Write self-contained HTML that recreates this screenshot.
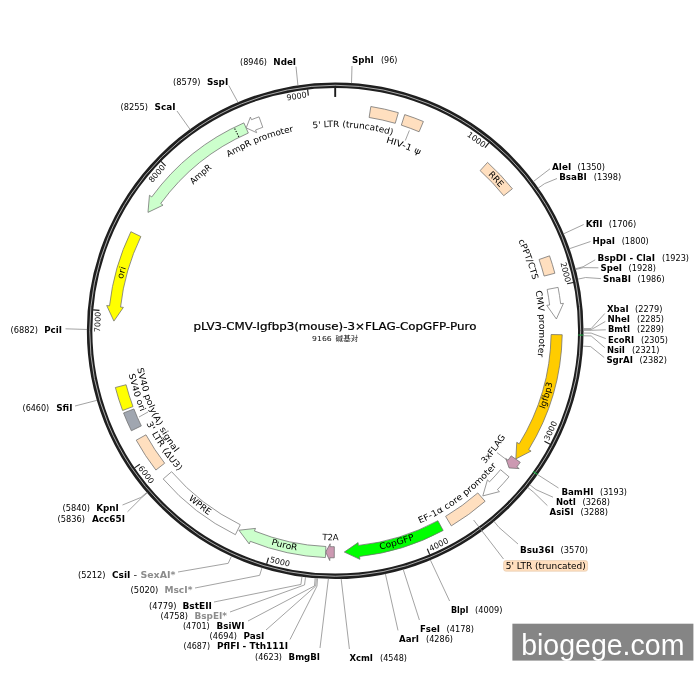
<!DOCTYPE html>
<html lang="en">
<head>
<meta charset="utf-8">
<title>pLV3-CMV-Igfbp3(mouse)-3×FLAG-CopGFP-Puro</title>
<style>
html,body{margin:0;padding:0;background:#fff;}
body{width:700px;height:700px;overflow:hidden;}
svg{display:block;font-family:"DejaVu Sans", "Liberation Sans", sans-serif;will-change:transform;}
</style>
</head>
<body>
<svg width="700" height="700" viewBox="0 0 700 700">
<rect width="700" height="700" fill="#fff"/>
<defs>
<path id="tp1" d="M 284.33 133.4 A 203.8 203.8 0 0 1 419.57 145.23"/>
<path id="tp2" d="M 356.96 137.07 A 194.9 194.9 0 0 1 444.72 169.53"/>
<path id="tp3" d="M 465.65 155.71 A 218.3 218.3 0 0 1 517.74 211.03"/>
<path id="tp4" d="M 503.41 215.51 A 203.9 203.9 0 0 1 537.91 308.79"/>
<path id="tp5" d="M 527.75 263.05 A 204.1 204.1 0 0 1 531.9 385.19"/>
<path id="tp6" d="M 532.08 436.95 A 223.7 223.7 0 0 0 557.79 353"/>
<path id="tp7" d="M 462.97 485.39 A 200.6 200.6 0 0 0 519.63 409.66"/>
<path id="tp8" d="M 390.5 533.96 A 210.6 210.6 0 0 0 514.91 440.55"/>
<path id="tp9" d="M 350.01 553.46 A 223.2 223.2 0 0 0 442.17 526.65"/>
<path id="tp10" d="M 291.93 535.84 A 209.6 209.6 0 0 0 369.12 537.59"/>
<path id="tp11" d="M 242.63 533.74 A 223.1 223.1 0 0 0 326.97 553.7"/>
<path id="tp12" d="M 166.69 477.72 A 223.6 223.6 0 0 0 234.87 530.58"/>
<path id="tp13" d="M 134.75 394.69 A 210.4 210.4 0 0 0 200.82 492.65"/>
<path id="tp14" d="M 124.71 343.93 A 210.9 210.9 0 0 0 154.46 439.43"/>
<path id="tp15" d="M 133.91 337.42 A 201.4 201.4 0 0 0 195.56 475.88"/>
<path id="tp16" d="M 117.86 308.26 A 218.5 218.5 0 0 1 136.42 240.03"/>
<path id="tp17" d="M 173.72 206.75 A 203.6 203.6 0 0 1 236.74 152.54"/>
<path id="tp18" d="M 204.99 174.23 A 203.6 203.6 0 0 1 322.27 127.56"/>
</defs>
<circle cx="335.2" cy="330.75" r="245.6" fill="none" stroke="#1f1f1f" stroke-width="5.5"/>
<circle cx="335.2" cy="330.75" r="245.5" fill="none" stroke="#b4b4b4" stroke-width="0.95"/>
<line x1="335.2" y1="87.75" x2="335.2" y2="96.95" stroke="#1c1c1c" stroke-width="1.9"/>
<line x1="489.03" y1="142.64" x2="484.98" y2="147.6" stroke="#1c1c1c" stroke-width="1.15"/>
<text transform="translate(476.57 139.41) rotate(36.46)" x="0" y="2.95" font-size="8" text-anchor="middle" fill="#111" textLength="20.4" lengthAdjust="spacingAndGlyphs">1000</text>
<line x1="573.36" y1="282.52" x2="567.09" y2="283.79" stroke="#1c1c1c" stroke-width="1.15"/>
<text transform="translate(565.76 272.12) rotate(75.73)" x="0" y="2.95" font-size="8" text-anchor="middle" fill="#111" textLength="20.4" lengthAdjust="spacingAndGlyphs">2000</text>
<line x1="550.1" y1="444.18" x2="544.44" y2="441.19" stroke="#1c1c1c" stroke-width="1.15"/>
<text transform="translate(550.43 430.68) rotate(-65.09)" x="0" y="2.95" font-size="8" text-anchor="middle" fill="#111" textLength="20.4" lengthAdjust="spacingAndGlyphs">3000</text>
<line x1="429.75" y1="554.6" x2="427.26" y2="548.71" stroke="#1c1c1c" stroke-width="1.15"/>
<text transform="translate(438.55 544.36) rotate(-25.82)" x="0" y="2.95" font-size="8" text-anchor="middle" fill="#111" textLength="20.4" lengthAdjust="spacingAndGlyphs">4000</text>
<line x1="266.68" y1="563.89" x2="268.49" y2="557.75" stroke="#1c1c1c" stroke-width="1.15"/>
<text transform="translate(279.98 561.54) rotate(13.46)" x="0" y="2.95" font-size="8" text-anchor="middle" fill="#111" textLength="20.4" lengthAdjust="spacingAndGlyphs">5000</text>
<line x1="134.57" y1="467.85" x2="139.85" y2="464.24" stroke="#1c1c1c" stroke-width="1.15"/>
<text transform="translate(146.35 474.45) rotate(52.73)" x="0" y="2.95" font-size="8" text-anchor="middle" fill="#111" textLength="20.4" lengthAdjust="spacingAndGlyphs">6000</text>
<line x1="93.1" y1="309.87" x2="99.47" y2="310.42" stroke="#1c1c1c" stroke-width="1.15"/>
<text transform="translate(97.46 321.99) rotate(272.11)" x="0" y="2.95" font-size="8" text-anchor="middle" fill="#111" textLength="20.4" lengthAdjust="spacingAndGlyphs">7000</text>
<line x1="161" y1="161.32" x2="165.59" y2="165.79" stroke="#1c1c1c" stroke-width="1.15"/>
<text transform="translate(156.71 173.46) rotate(311.39)" x="0" y="2.95" font-size="8" text-anchor="middle" fill="#111" textLength="20.4" lengthAdjust="spacingAndGlyphs">8000</text>
<line x1="307.61" y1="89.32" x2="308.34" y2="95.68" stroke="#1c1c1c" stroke-width="1.15"/>
<text transform="translate(296.6 96) rotate(350.66)" x="0" y="2.95" font-size="8" text-anchor="middle" fill="#111" textLength="20.4" lengthAdjust="spacingAndGlyphs">9000</text>
<line x1="578.16" y1="335" x2="583.36" y2="335.09" stroke="#16a03a" stroke-width="1.2"/>
<line x1="533.26" y1="471.54" x2="537.5" y2="474.55" stroke="#16a03a" stroke-width="1.2"/>
<path d="M 370.85 106.52 A 227.05 227.05 0 0 1 398.33 112.65 L 395.24 123.31 A 215.95 215.95 0 0 0 369.11 117.48 Z" fill="#ffdfbf" stroke="#6e6e6e" stroke-width="0.75" stroke-linejoin="miter"/>
<path d="M 404.73 114.61 A 227.05 227.05 0 0 1 423.4 121.53 L 419.09 131.76 A 215.95 215.95 0 0 0 401.33 125.17 Z" fill="#ffdfbf" stroke="#6e6e6e" stroke-width="0.75" stroke-linejoin="miter"/>
<path d="M 487.55 162.4 A 227.05 227.05 0 0 1 512.38 188.77 L 503.72 195.71 A 215.95 215.95 0 0 0 480.1 170.63 Z" fill="#ffdfbf" stroke="#6e6e6e" stroke-width="0.75" stroke-linejoin="miter"/>
<path d="M 549.54 255.84 A 227.05 227.05 0 0 1 554.85 273.25 L 544.11 276.06 A 215.95 215.95 0 0 0 539.06 259.5 Z" fill="#ffdfbf" stroke="#6e6e6e" stroke-width="0.75" stroke-linejoin="miter"/>
<path d="M 558.07 287.36 A 227.05 227.05 0 0 1 560.63 303.68 L 563.46 303.34 L 556.39 318.99 L 546.78 305.35 L 549.61 305.01 A 215.95 215.95 0 0 0 547.17 289.48 Z" fill="#ffffff" stroke="#777" stroke-width="0.75" stroke-linejoin="miter"/>
<path d="M 562.22 334.72 A 227.05 227.05 0 0 1 528.66 449.6 L 531.09 451.1 L 515.82 458.96 L 516.77 442.3 L 519.2 443.79 A 215.95 215.95 0 0 0 551.12 334.52 Z" fill="#ffcc00" stroke="#6e6e6e" stroke-width="0.75" stroke-linejoin="miter"/>
<path d="M 520.26 462.3 A 227.05 227.05 0 0 1 516.91 466.89 L 519.19 468.6 L 509.09 467.95 L 505.75 458.52 L 508.03 460.23 A 215.95 215.95 0 0 0 511.21 455.87 Z" fill="#cc99b2" stroke="#6e6e6e" stroke-width="0.75" stroke-linejoin="miter"/>
<path d="M 509.02 476.82 A 227.05 227.05 0 0 1 497.4 489.63 L 499.43 491.63 L 482.81 495.9 L 487.43 479.87 L 489.47 481.86 A 215.95 215.95 0 0 0 500.53 469.68 Z" fill="#ffffff" stroke="#777" stroke-width="0.75" stroke-linejoin="miter"/>
<path d="M 485.11 501.28 A 227.05 227.05 0 0 1 451.3 525.87 L 445.62 516.33 A 215.95 215.95 0 0 0 477.78 492.94 Z" fill="#ffdfbf" stroke="#6e6e6e" stroke-width="0.75" stroke-linejoin="miter"/>
<path d="M 443.18 530.48 A 227.05 227.05 0 0 1 359.56 556.49 L 359.87 559.32 L 344.31 552.06 L 358.06 542.62 L 358.37 545.45 A 215.95 215.95 0 0 0 437.9 520.72 Z" fill="#00ff00" stroke="#6e6e6e" stroke-width="0.75" stroke-linejoin="miter"/>
<path d="M 334.27 557.8 A 227.05 227.05 0 0 1 329.83 557.74 L 329.76 560.59 L 325.64 552.04 L 330.16 543.79 L 330.09 546.64 A 215.95 215.95 0 0 0 334.31 546.7 Z" fill="#cc99b2" stroke="#6e6e6e" stroke-width="0.75" stroke-linejoin="miter"/>
<path d="M 325.4 557.59 A 227.05 227.05 0 0 1 250.28 541.32 L 249.22 543.97 L 238.92 530.23 L 255.5 528.39 L 254.44 531.03 A 215.95 215.95 0 0 0 325.88 546.5 Z" fill="#ccffcc" stroke="#6e6e6e" stroke-width="0.75" stroke-linejoin="miter"/>
<path d="M 235.39 534.68 A 227.05 227.05 0 0 1 163.19 478.95 L 171.6 471.71 A 215.95 215.95 0 0 0 240.27 524.71 Z" fill="#ffffff" stroke="#777" stroke-width="0.75" stroke-linejoin="miter"/>
<path d="M 155.9 470.04 A 227.05 227.05 0 0 1 136.25 440.16 L 145.98 434.81 A 215.95 215.95 0 0 0 164.66 463.23 Z" fill="#ffdfbf" stroke="#6e6e6e" stroke-width="0.75" stroke-linejoin="miter"/>
<path d="M 131.37 430.77 A 227.05 227.05 0 0 1 123.56 412.96 L 133.9 408.94 A 215.95 215.95 0 0 0 141.33 425.88 Z" fill="#a0a6b0" stroke="#6e6e6e" stroke-width="0.75" stroke-linejoin="miter"/>
<path d="M 122.61 410.49 A 227.05 227.05 0 0 1 115.36 387.5 L 126.1 384.72 A 215.95 215.95 0 0 0 133.01 406.59 Z" fill="#ffff00" stroke="#6e6e6e" stroke-width="0.75" stroke-linejoin="miter"/>
<path d="M 130.89 231.71 A 227.05 227.05 0 0 0 109.52 305.85 L 106.69 305.54 L 113.91 321.11 L 123.39 307.38 L 120.55 307.07 A 215.95 215.95 0 0 1 140.88 236.55 Z" fill="#ffff00" stroke="#6e6e6e" stroke-width="0.75" stroke-linejoin="miter"/>
<path d="M 243.86 122.88 A 227.05 227.05 0 0 0 151.76 196.95 L 149.46 195.27 L 147.98 212.38 L 163.03 205.17 L 160.73 203.49 A 215.95 215.95 0 0 1 248.32 133.05 Z" fill="#ccffcc" stroke="#6e6e6e" stroke-width="0.75" stroke-linejoin="miter"/>
<path d="M 259.04 116.85 A 227.05 227.05 0 0 0 251.47 119.7 L 250.42 117.05 L 246.23 127.9 L 256.61 132.67 L 255.56 130.02 A 215.95 215.95 0 0 1 262.76 127.31 Z" fill="#ffffff" stroke="#777" stroke-width="0.75" stroke-linejoin="miter"/>
<line x1="238.85" y1="136.93" x2="234.35" y2="127.88" stroke="#111" stroke-width="1.1" stroke-dasharray="1.35 1.35"/>
<text font-size="8.7" fill="#000" text-anchor="middle"><textPath href="#tp1" startOffset="50%" textLength="80.5" lengthAdjust="spacingAndGlyphs">5' LTR (truncated)</textPath></text>
<text font-size="8.7" fill="#000" text-anchor="middle"><textPath href="#tp2" startOffset="50%" textLength="36" lengthAdjust="spacingAndGlyphs">HIV-1 ψ</textPath></text>
<text font-size="8.7" fill="#000" text-anchor="middle"><textPath href="#tp3" startOffset="50%" textLength="17.5" lengthAdjust="spacingAndGlyphs">RRE</textPath></text>
<text font-size="8.7" fill="#000" text-anchor="middle"><textPath href="#tp4" startOffset="50%" textLength="42" lengthAdjust="spacingAndGlyphs">cPPT/CTS</textPath></text>
<text font-size="8.7" fill="#000" text-anchor="middle"><textPath href="#tp5" startOffset="50%" textLength="66" lengthAdjust="spacingAndGlyphs">CMV promoter</textPath></text>
<text font-size="8.7" fill="#000" text-anchor="middle"><textPath href="#tp6" startOffset="50%" textLength="27.5" lengthAdjust="spacingAndGlyphs">Igfbp3</textPath></text>
<text font-size="8.7" fill="#000" text-anchor="middle"><textPath href="#tp7" startOffset="50%" textLength="34" lengthAdjust="spacingAndGlyphs">3xFLAG</textPath></text>
<text font-size="8.7" fill="#000" text-anchor="middle"><textPath href="#tp8" startOffset="50%" textLength="97" lengthAdjust="spacingAndGlyphs">EF-1α core promoter</textPath></text>
<text font-size="8.7" fill="#000" text-anchor="middle"><textPath href="#tp9" startOffset="50%" textLength="36" lengthAdjust="spacingAndGlyphs">CopGFP</textPath></text>
<text font-size="8.7" fill="#000" text-anchor="middle"><textPath href="#tp10" startOffset="50%" textLength="16.5" lengthAdjust="spacingAndGlyphs">T2A</textPath></text>
<text font-size="8.7" fill="#000" text-anchor="middle"><textPath href="#tp11" startOffset="50%" textLength="26.6" lengthAdjust="spacingAndGlyphs">PuroR</textPath></text>
<text font-size="8.7" fill="#000" text-anchor="middle"><textPath href="#tp12" startOffset="50%" textLength="26" lengthAdjust="spacingAndGlyphs">WPRE</textPath></text>
<text font-size="8.7" fill="#000" text-anchor="middle"><textPath href="#tp13" startOffset="50%" textLength="58" lengthAdjust="spacingAndGlyphs">3' LTR (ΔU3)</textPath></text>
<text font-size="8.7" fill="#000" text-anchor="middle"><textPath href="#tp14" startOffset="50%" textLength="39.5" lengthAdjust="spacingAndGlyphs">SV40 ori</textPath></text>
<text font-size="8.7" fill="#000" text-anchor="middle"><textPath href="#tp15" startOffset="50%" textLength="93" lengthAdjust="spacingAndGlyphs">SV40 poly(A) signal</textPath></text>
<text font-size="8.7" fill="#000" text-anchor="middle"><textPath href="#tp16" startOffset="50%" textLength="12" lengthAdjust="spacingAndGlyphs">ori</textPath></text>
<text font-size="8.7" fill="#000" text-anchor="middle"><textPath href="#tp17" startOffset="50%" textLength="25" lengthAdjust="spacingAndGlyphs">AmpR</textPath></text>
<text font-size="8.7" fill="#000" text-anchor="middle"><textPath href="#tp18" startOffset="50%" textLength="70.3" lengthAdjust="spacingAndGlyphs">AmpR promoter</textPath></text>
<line x1="409.4" y1="130.4" x2="405.3" y2="140.5" stroke="#8a8a8a" stroke-width="0.8"/>
<line x1="497" y1="452.6" x2="506.9" y2="460" stroke="#8a8a8a" stroke-width="0.8"/>
<line x1="139" y1="417" x2="148" y2="412" stroke="#8a8a8a" stroke-width="0.8"/>
<line x1="473.6" y1="520" x2="503.5" y2="559" stroke="#8a8a8a" stroke-width="0.8"/>
<rect x="503.6" y="560.6" width="84" height="10.6" rx="2.2" ry="2.2" fill="#ffdfbf" stroke="#e3c6a8" stroke-width="0.6"/>
<text x="505.8" y="568.6" font-size="8.7" font-weight="normal" fill="#000" text-anchor="start" textLength="80" lengthAdjust="spacingAndGlyphs">5' LTR (truncated)</text>
<text x="352" y="63" font-size="8.0" font-weight="bold" fill="#000" text-anchor="start" textLength="21.8" lengthAdjust="spacingAndGlyphs">SphI</text>
<text x="381" y="63" font-size="8.0" font-weight="normal" fill="#000" text-anchor="start" textLength="16.4" lengthAdjust="spacingAndGlyphs">(96)</text>
<text x="552" y="170" font-size="8.0" font-weight="bold" fill="#000" text-anchor="start" textLength="19.2" lengthAdjust="spacingAndGlyphs">AleI</text>
<text x="577.5" y="170" font-size="8.0" font-weight="normal" fill="#000" text-anchor="start" textLength="27.5" lengthAdjust="spacingAndGlyphs">(1350)</text>
<text x="559.2" y="180" font-size="8.0" font-weight="bold" fill="#000" text-anchor="start" textLength="27.6" lengthAdjust="spacingAndGlyphs">BsaBI</text>
<text x="593.7" y="180" font-size="8.0" font-weight="normal" fill="#000" text-anchor="start" textLength="27.5" lengthAdjust="spacingAndGlyphs">(1398)</text>
<text x="585.7" y="226.8" font-size="8.0" font-weight="bold" fill="#000" text-anchor="start" textLength="16.8" lengthAdjust="spacingAndGlyphs">KflI</text>
<text x="608.7" y="226.8" font-size="8.0" font-weight="normal" fill="#000" text-anchor="start" textLength="27.5" lengthAdjust="spacingAndGlyphs">(1706)</text>
<text x="592.5" y="243.8" font-size="8.0" font-weight="bold" fill="#000" text-anchor="start" textLength="22.5" lengthAdjust="spacingAndGlyphs">HpaI</text>
<text x="621.7" y="243.8" font-size="8.0" font-weight="normal" fill="#000" text-anchor="start" textLength="27.1" lengthAdjust="spacingAndGlyphs">(1800)</text>
<text x="597.4" y="261" font-size="8.0" font-weight="bold" fill="#000" text-anchor="start" textLength="57.6" lengthAdjust="spacingAndGlyphs">BspDI - ClaI</text>
<text x="662" y="261" font-size="8.0" font-weight="normal" fill="#000" text-anchor="start" textLength="27" lengthAdjust="spacingAndGlyphs">(1923)</text>
<text x="600.6" y="271.4" font-size="8.0" font-weight="bold" fill="#000" text-anchor="start" textLength="21.4" lengthAdjust="spacingAndGlyphs">SpeI</text>
<text x="628.6" y="271.4" font-size="8.0" font-weight="normal" fill="#000" text-anchor="start" textLength="27.4" lengthAdjust="spacingAndGlyphs">(1928)</text>
<text x="603" y="281.6" font-size="8.0" font-weight="bold" fill="#000" text-anchor="start" textLength="28" lengthAdjust="spacingAndGlyphs">SnaBI</text>
<text x="637.6" y="281.6" font-size="8.0" font-weight="normal" fill="#000" text-anchor="start" textLength="27" lengthAdjust="spacingAndGlyphs">(1986)</text>
<text x="607" y="312" font-size="8.0" font-weight="bold" fill="#000" text-anchor="start" textLength="21.6" lengthAdjust="spacingAndGlyphs">XbaI</text>
<text x="635" y="312" font-size="8.0" font-weight="normal" fill="#000" text-anchor="start" textLength="27.4" lengthAdjust="spacingAndGlyphs">(2279)</text>
<text x="607.5" y="322.4" font-size="8.0" font-weight="bold" fill="#000" text-anchor="start" textLength="22.5" lengthAdjust="spacingAndGlyphs">NheI</text>
<text x="637" y="322.4" font-size="8.0" font-weight="normal" fill="#000" text-anchor="start" textLength="27" lengthAdjust="spacingAndGlyphs">(2285)</text>
<text x="608" y="332.4" font-size="8.0" font-weight="bold" fill="#000" text-anchor="start" textLength="22" lengthAdjust="spacingAndGlyphs">BmtI</text>
<text x="637" y="332.4" font-size="8.0" font-weight="normal" fill="#000" text-anchor="start" textLength="27" lengthAdjust="spacingAndGlyphs">(2289)</text>
<text x="608" y="342.6" font-size="8.0" font-weight="bold" fill="#000" text-anchor="start" textLength="26" lengthAdjust="spacingAndGlyphs">EcoRI</text>
<text x="641" y="342.6" font-size="8.0" font-weight="normal" fill="#000" text-anchor="start" textLength="27" lengthAdjust="spacingAndGlyphs">(2305)</text>
<text x="607" y="353" font-size="8.0" font-weight="bold" fill="#000" text-anchor="start" textLength="18" lengthAdjust="spacingAndGlyphs">NsiI</text>
<text x="632" y="353" font-size="8.0" font-weight="normal" fill="#000" text-anchor="start" textLength="27.4" lengthAdjust="spacingAndGlyphs">(2321)</text>
<text x="606.4" y="363.4" font-size="8.0" font-weight="bold" fill="#000" text-anchor="start" textLength="26.6" lengthAdjust="spacingAndGlyphs">SgrAI</text>
<text x="639.6" y="363.4" font-size="8.0" font-weight="normal" fill="#000" text-anchor="start" textLength="27.4" lengthAdjust="spacingAndGlyphs">(2382)</text>
<text x="561.4" y="494.6" font-size="8.0" font-weight="bold" fill="#000" text-anchor="start" textLength="32" lengthAdjust="spacingAndGlyphs">BamHI</text>
<text x="600" y="494.6" font-size="8.0" font-weight="normal" fill="#000" text-anchor="start" textLength="27" lengthAdjust="spacingAndGlyphs">(3193)</text>
<text x="556" y="505" font-size="8.0" font-weight="bold" fill="#000" text-anchor="start" textLength="20" lengthAdjust="spacingAndGlyphs">NotI</text>
<text x="582.6" y="505" font-size="8.0" font-weight="normal" fill="#000" text-anchor="start" textLength="27.4" lengthAdjust="spacingAndGlyphs">(3268)</text>
<text x="549.6" y="515" font-size="8.0" font-weight="bold" fill="#000" text-anchor="start" textLength="24" lengthAdjust="spacingAndGlyphs">AsiSI</text>
<text x="580.4" y="515" font-size="8.0" font-weight="normal" fill="#000" text-anchor="start" textLength="27.6" lengthAdjust="spacingAndGlyphs">(3288)</text>
<text x="520" y="553" font-size="8.0" font-weight="bold" fill="#000" text-anchor="start" textLength="34" lengthAdjust="spacingAndGlyphs">Bsu36I</text>
<text x="560.6" y="553" font-size="8.0" font-weight="normal" fill="#000" text-anchor="start" textLength="27.4" lengthAdjust="spacingAndGlyphs">(3570)</text>
<text x="451" y="613" font-size="8.0" font-weight="bold" fill="#000" text-anchor="start" textLength="17.5" lengthAdjust="spacingAndGlyphs">BlpI</text>
<text x="475" y="613" font-size="8.0" font-weight="normal" fill="#000" text-anchor="start" textLength="27.4" lengthAdjust="spacingAndGlyphs">(4009)</text>
<text x="420" y="632" font-size="8.0" font-weight="bold" fill="#000" text-anchor="start" textLength="20" lengthAdjust="spacingAndGlyphs">FseI</text>
<text x="446.6" y="632" font-size="8.0" font-weight="normal" fill="#000" text-anchor="start" textLength="27.4" lengthAdjust="spacingAndGlyphs">(4178)</text>
<text x="399" y="642" font-size="8.0" font-weight="bold" fill="#000" text-anchor="start" textLength="20" lengthAdjust="spacingAndGlyphs">AarI</text>
<text x="426" y="642" font-size="8.0" font-weight="normal" fill="#000" text-anchor="start" textLength="27" lengthAdjust="spacingAndGlyphs">(4286)</text>
<text x="349.4" y="660.6" font-size="8.0" font-weight="bold" fill="#000" text-anchor="start" textLength="23.6" lengthAdjust="spacingAndGlyphs">XcmI</text>
<text x="380" y="660.6" font-size="8.0" font-weight="normal" fill="#000" text-anchor="start" textLength="27" lengthAdjust="spacingAndGlyphs">(4548)</text>
<text x="255" y="659.6" font-size="8.0" font-weight="normal" fill="#000" text-anchor="start" textLength="27" lengthAdjust="spacingAndGlyphs">(4623)</text>
<text x="288.6" y="659.6" font-size="8.0" font-weight="bold" fill="#000" text-anchor="start" textLength="31.4" lengthAdjust="spacingAndGlyphs">BmgBI</text>
<text x="183.6" y="649.4" font-size="8.0" font-weight="normal" fill="#000" text-anchor="start" textLength="26.4" lengthAdjust="spacingAndGlyphs">(4687)</text>
<text x="217" y="649.4" font-size="8.0" font-weight="bold" fill="#000" text-anchor="start" textLength="71" lengthAdjust="spacingAndGlyphs">PflFI - Tth111I</text>
<text x="209.6" y="639" font-size="8.0" font-weight="normal" fill="#000" text-anchor="start" textLength="27.4" lengthAdjust="spacingAndGlyphs">(4694)</text>
<text x="243.6" y="639" font-size="8.0" font-weight="bold" fill="#000" text-anchor="start" textLength="20.8" lengthAdjust="spacingAndGlyphs">PasI</text>
<text x="183" y="628.6" font-size="8.0" font-weight="normal" fill="#000" text-anchor="start" textLength="26.6" lengthAdjust="spacingAndGlyphs">(4701)</text>
<text x="216.6" y="628.6" font-size="8.0" font-weight="bold" fill="#000" text-anchor="start" textLength="27.8" lengthAdjust="spacingAndGlyphs">BsiWI</text>
<text x="160.6" y="618.6" font-size="8.0" font-weight="normal" fill="#000" text-anchor="start" textLength="27.4" lengthAdjust="spacingAndGlyphs">(4758)</text>
<text x="194.4" y="618.6" font-size="8.0" font-weight="bold" fill="#8c8c8c" text-anchor="start" textLength="32.6" lengthAdjust="spacingAndGlyphs">BspEI*</text>
<text x="149" y="608.6" font-size="8.0" font-weight="normal" fill="#000" text-anchor="start" textLength="27.4" lengthAdjust="spacingAndGlyphs">(4779)</text>
<text x="182.4" y="608.6" font-size="8.0" font-weight="bold" fill="#000" text-anchor="start" textLength="29.6" lengthAdjust="spacingAndGlyphs">BstEII</text>
<text x="130.6" y="593" font-size="8.0" font-weight="normal" fill="#000" text-anchor="start" textLength="27.8" lengthAdjust="spacingAndGlyphs">(5020)</text>
<text x="164.4" y="593" font-size="8.0" font-weight="bold" fill="#8c8c8c" text-anchor="start" textLength="28" lengthAdjust="spacingAndGlyphs">MscI*</text>
<text x="78" y="578" font-size="8.0" font-weight="normal" fill="#000" text-anchor="start" textLength="27.6" lengthAdjust="spacingAndGlyphs">(5212)</text>
<text x="112" y="578" font-size="8.0" font-weight="bold" fill="#000" text-anchor="start" textLength="18.4" lengthAdjust="spacingAndGlyphs">CsiI</text>
<text x="133.6" y="578" font-size="8.0" font-weight="normal" fill="#000" text-anchor="start" textLength="3.6" lengthAdjust="spacingAndGlyphs">-</text>
<text x="140.4" y="578" font-size="8.0" font-weight="bold" fill="#8c8c8c" text-anchor="start" textLength="35" lengthAdjust="spacingAndGlyphs">SexAI*</text>
<text x="62.5" y="511.2" font-size="8.0" font-weight="normal" fill="#000" text-anchor="start" textLength="27.5" lengthAdjust="spacingAndGlyphs">(5840)</text>
<text x="96.2" y="511.2" font-size="8.0" font-weight="bold" fill="#000" text-anchor="start" textLength="22.6" lengthAdjust="spacingAndGlyphs">KpnI</text>
<text x="57.5" y="521.8" font-size="8.0" font-weight="normal" fill="#000" text-anchor="start" textLength="27.5" lengthAdjust="spacingAndGlyphs">(5836)</text>
<text x="92" y="521.8" font-size="8.0" font-weight="bold" fill="#000" text-anchor="start" textLength="33" lengthAdjust="spacingAndGlyphs">Acc65I</text>
<text x="22.5" y="411.2" font-size="8.0" font-weight="normal" fill="#000" text-anchor="start" textLength="26.7" lengthAdjust="spacingAndGlyphs">(6460)</text>
<text x="56.2" y="411.2" font-size="8.0" font-weight="bold" fill="#000" text-anchor="start" textLength="16.3" lengthAdjust="spacingAndGlyphs">SfiI</text>
<text x="10.5" y="333" font-size="8.0" font-weight="normal" fill="#000" text-anchor="start" textLength="27.5" lengthAdjust="spacingAndGlyphs">(6882)</text>
<text x="44.2" y="333" font-size="8.0" font-weight="bold" fill="#000" text-anchor="start" textLength="17.8" lengthAdjust="spacingAndGlyphs">PciI</text>
<text x="120.5" y="110" font-size="8.0" font-weight="normal" fill="#000" text-anchor="start" textLength="27.5" lengthAdjust="spacingAndGlyphs">(8255)</text>
<text x="154.5" y="110" font-size="8.0" font-weight="bold" fill="#000" text-anchor="start" textLength="21" lengthAdjust="spacingAndGlyphs">ScaI</text>
<text x="173" y="84.5" font-size="8.0" font-weight="normal" fill="#000" text-anchor="start" textLength="27.5" lengthAdjust="spacingAndGlyphs">(8579)</text>
<text x="207" y="84.5" font-size="8.0" font-weight="bold" fill="#000" text-anchor="start" textLength="21.2" lengthAdjust="spacingAndGlyphs">SspI</text>
<text x="240" y="65.2" font-size="8.0" font-weight="normal" fill="#000" text-anchor="start" textLength="27" lengthAdjust="spacingAndGlyphs">(8946)</text>
<text x="273.3" y="65.2" font-size="8.0" font-weight="bold" fill="#000" text-anchor="start" textLength="22.8" lengthAdjust="spacingAndGlyphs">NdeI</text>
<path d="M 351.51 83.19 L 352 66" fill="none" stroke="#8c8c8c" stroke-width="0.8" stroke-linejoin="round"/>
<path d="M 533.4 181.52 L 550 168.8" fill="none" stroke="#8c8c8c" stroke-width="0.8" stroke-linejoin="round"/>
<path d="M 538.2 188.12 L 544.66 183.58 L 557 178.5" fill="none" stroke="#8c8c8c" stroke-width="0.8" stroke-linejoin="round"/>
<path d="M 563.58 233.83 L 583.7 224.5" fill="none" stroke="#8c8c8c" stroke-width="0.8" stroke-linejoin="round"/>
<path d="M 569.35 248.73 L 590.5 241.5" fill="none" stroke="#8c8c8c" stroke-width="0.8" stroke-linejoin="round"/>
<path d="M 575.43 268.74 L 583.08 266.77 L 595.2 259.8" fill="none" stroke="#8c8c8c" stroke-width="0.8" stroke-linejoin="round"/>
<path d="M 575.64 269.57 L 583.29 267.62 L 598.4 267.8" fill="none" stroke="#8c8c8c" stroke-width="0.8" stroke-linejoin="round"/>
<path d="M 577.88 279.17 L 585.61 277.53 L 600.8 278.6" fill="none" stroke="#8c8c8c" stroke-width="0.8" stroke-linejoin="round"/>
<path d="M 583.29 328.62 L 591.19 328.56 L 604.8 313.5" fill="none" stroke="#8c8c8c" stroke-width="0.8" stroke-linejoin="round"/>
<path d="M 583.3 329.64 L 591.2 329.61 L 605.3 321.5" fill="none" stroke="#8c8c8c" stroke-width="0.8" stroke-linejoin="round"/>
<path d="M 583.3 330.32 L 591.2 330.31 L 605.8 329.8" fill="none" stroke="#8c8c8c" stroke-width="0.8" stroke-linejoin="round"/>
<path d="M 583.29 333.05 L 591.19 333.12 L 605.8 338.6" fill="none" stroke="#8c8c8c" stroke-width="0.8" stroke-linejoin="round"/>
<path d="M 583.25 335.77 L 591.15 335.93 L 604.8 347.6" fill="none" stroke="#8c8c8c" stroke-width="0.8" stroke-linejoin="round"/>
<path d="M 582.82 346.13 L 590.71 346.62 L 604.2 357.5" fill="none" stroke="#8c8c8c" stroke-width="0.8" stroke-linejoin="round"/>
<path d="M 537.42 474.49 L 558.5 488" fill="none" stroke="#8c8c8c" stroke-width="0.8" stroke-linejoin="round"/>
<path d="M 529.76 484.7 L 535.96 489.6 L 553 497.2" fill="none" stroke="#8c8c8c" stroke-width="0.8" stroke-linejoin="round"/>
<path d="M 527.63 487.35 L 533.76 492.34 L 547.4 505.6" fill="none" stroke="#8c8c8c" stroke-width="0.8" stroke-linejoin="round"/>
<path d="M 493.97 521.4 L 499.02 527.47 L 518 544" fill="none" stroke="#8c8c8c" stroke-width="0.8" stroke-linejoin="round"/>
<path d="M 430.32 559.89 L 449.6 601" fill="none" stroke="#8c8c8c" stroke-width="0.8" stroke-linejoin="round"/>
<path d="M 403.2 569.35 L 419.4 620" fill="none" stroke="#8c8c8c" stroke-width="0.8" stroke-linejoin="round"/>
<path d="M 385.36 573.73 L 398 630.4" fill="none" stroke="#8c8c8c" stroke-width="0.8" stroke-linejoin="round"/>
<path d="M 341.15 578.78 L 349.4 649" fill="none" stroke="#8c8c8c" stroke-width="0.8" stroke-linejoin="round"/>
<path d="M 328.4 578.76 L 320 648" fill="none" stroke="#8c8c8c" stroke-width="0.8" stroke-linejoin="round"/>
<path d="M 317.53 578.22 L 316.97 586.1 L 290 639.5" fill="none" stroke="#8c8c8c" stroke-width="0.8" stroke-linejoin="round"/>
<path d="M 316.34 578.13 L 315.74 586.01 L 266 630" fill="none" stroke="#8c8c8c" stroke-width="0.8" stroke-linejoin="round"/>
<path d="M 315.15 578.04 L 314.52 585.91 L 248 621" fill="none" stroke="#8c8c8c" stroke-width="0.8" stroke-linejoin="round"/>
<path d="M 305.51 577.07 L 304.56 584.91 L 230 612" fill="none" stroke="#8c8c8c" stroke-width="0.8" stroke-linejoin="round"/>
<path d="M 301.97 576.61 L 300.91 584.44 L 214 602" fill="none" stroke="#8c8c8c" stroke-width="0.8" stroke-linejoin="round"/>
<path d="M 261.99 567.8 L 259.65 575.35 L 195 588" fill="none" stroke="#8c8c8c" stroke-width="0.8" stroke-linejoin="round"/>
<path d="M 231.51 556.14 L 228.21 563.32 L 178 572" fill="none" stroke="#8c8c8c" stroke-width="0.8" stroke-linejoin="round"/>
<path d="M 146.91 492.31 L 140.92 497.45 L 122.5 505" fill="none" stroke="#8c8c8c" stroke-width="0.8" stroke-linejoin="round"/>
<path d="M 147.35 492.82 L 141.37 497.98 L 127.5 511.8" fill="none" stroke="#8c8c8c" stroke-width="0.8" stroke-linejoin="round"/>
<path d="M 97.05 400.3 L 75 406" fill="none" stroke="#8c8c8c" stroke-width="0.8" stroke-linejoin="round"/>
<path d="M 87.1 329.47 L 65.5 328.8" fill="none" stroke="#8c8c8c" stroke-width="0.8" stroke-linejoin="round"/>
<path d="M 190.14 129.47 L 177 111" fill="none" stroke="#8c8c8c" stroke-width="0.8" stroke-linejoin="round"/>
<path d="M 238.04 102.47 L 228.8 85.5" fill="none" stroke="#8c8c8c" stroke-width="0.8" stroke-linejoin="round"/>
<path d="M 297.93 85.47 L 296 66.6" fill="none" stroke="#8c8c8c" stroke-width="0.8" stroke-linejoin="round"/>
<text x="335" y="330.2" font-size="9.7" font-weight="normal" fill="#000" text-anchor="middle" textLength="282.8" lengthAdjust="spacingAndGlyphs" stroke="#000" stroke-width="0.22">pLV3-CMV-Igfbp3(mouse)-3×FLAG-CopGFP-Puro</text>
<text x="312.1" y="340.5" font-size="6.9" font-weight="normal" fill="#111" text-anchor="start" textLength="19.6" lengthAdjust="spacingAndGlyphs">9166</text>
<text x="335.6" y="340.7" font-size="7.3" fill="#111" textLength="22.6" lengthAdjust="spacingAndGlyphs" style="font-family:'Noto Sans CJK SC','WenQuanYi Zen Hei',sans-serif">碱基对</text>
<rect x="512.4" y="623.7" width="181" height="36.9" fill="#858585"/>
<text x="521.2" y="654.9" font-size="28.6" fill="#fff" textLength="163.2" lengthAdjust="spacingAndGlyphs" style="font-family:'Liberation Sans',sans-serif">biogege.com</text>
</svg>
</body>
</html>
